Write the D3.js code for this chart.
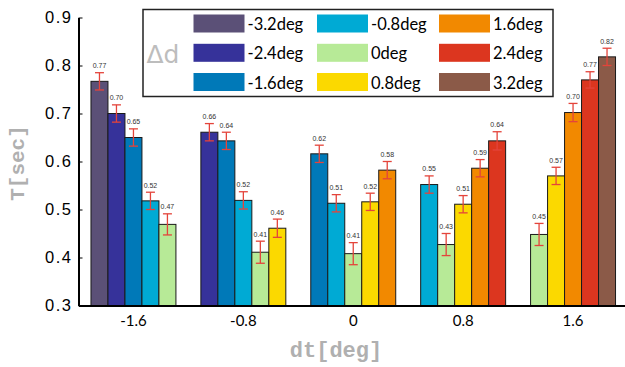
<!DOCTYPE html>
<html>
<head>
<meta charset="utf-8">
<script src="https://cdn.jsdelivr.net/npm/d3@7"></script>
<style>
  body { margin: 0; background: #fff; }
  svg { display: block; }
</style>
</head>
<body>
<div id="chart"></div>
<script>
// Data
const dtGroups = ["-1.6", "-0.8", "0", "0.8", "1.6"];
const ddSeries = ["-3.2deg", "-2.4deg", "-1.6deg", "-0.8deg", "0deg", "0.8deg", "1.6deg", "2.4deg", "3.2deg"];
// which dd series each bar of a group belongs to
const barSeries = [
    [0, 1, 2, 3, 4],
    [1, 2, 3, 4, 5],
    [2, 3, 4, 5, 6],
    [3, 4, 5, 6, 7],
    [4, 5, 6, 7, 8]
];
const meanT = [
    [0.767, 0.700, 0.650, 0.518, 0.469],
    [0.661, 0.643, 0.519, 0.411, 0.461],
    [0.616, 0.513, 0.408, 0.516, 0.582],
    [0.552, 0.427, 0.511, 0.586, 0.643],
    [0.448, 0.570, 0.702, 0.770, 0.818]
];
const errT = [
    [0.018, 0.018, 0.018, 0.018, 0.022],
    [0.018, 0.018, 0.018, 0.023, 0.019],
    [0.018, 0.018, 0.023, 0.018, 0.018],
    [0.018, 0.023, 0.018, 0.018, 0.019],
    [0.023, 0.018, 0.019, 0.017, 0.018]
];
const yTicks = [0.3, 0.4, 0.5, 0.6, 0.7, 0.8, 0.9];

const width = 625, height = 367;

const svg = d3.select("#chart")
    .append("svg")
    .attr("width", width)
    .attr("height", height);

// Scales
const x0 = d3.scaleBand()
    .domain(dtGroups)
    .range([78.5, 628])
    .paddingInner(0.227)
    .paddingOuter(0.1135);

const x1 = d3.scaleBand()
    .domain(d3.range(5))
    .range([0, x0.bandwidth()]);

const y = d3.scaleLinear()
    .domain([0.3, 0.9])
    .range([305.5, 17.5]);

const color = d3.scaleOrdinal()
    .domain(ddSeries)
    .range(["#5b5077", "#36329a", "#0079b8", "#00aad4", "#b7ea97",
            "#fbd900", "#f28900", "#dc361f", "#8b5a48"]);

// flatten to bar records
const bars = [];
dtGroups.forEach((g, gi) => {
    meanT[gi].forEach((v, bi) => {
        bars.push({ group: g, idx: bi, series: ddSeries[barSeries[gi][bi]], value: v, err: errT[gi][bi] });
    });
});

const plot = svg.append("g");

// Bars
plot.selectAll("rect.bar")
    .data(bars)
    .enter()
    .append("rect")
    .attr("class", "bar")
    .attr("x", d => x0(d.group) + x1(d.idx))
    .attr("y", d => y(d.value))
    .attr("width", x1.bandwidth())
    .attr("height", d => y(0.3) - y(d.value))
    .attr("fill", d => color(d.series))
    .attr("stroke", "#1a1a1a")
    .attr("stroke-width", 1);

// Error bars
const eb = plot.selectAll("g.err")
    .data(bars)
    .enter()
    .append("g")
    .attr("class", "err")
    .attr("stroke", "#e4443b")
    .attr("stroke-width", 1.3)
    .attr("transform", d => `translate(${x0(d.group) + x1(d.idx) + x1.bandwidth() / 2},0)`);

eb.append("line")
    .attr("y1", d => y(d.value + d.err))
    .attr("y2", d => y(d.value - d.err));
eb.append("line")
    .attr("x1", -4.5).attr("x2", 4.5)
    .attr("y1", d => y(d.value + d.err))
    .attr("y2", d => y(d.value + d.err));
eb.append("line")
    .attr("x1", -4.5).attr("x2", 4.5)
    .attr("y1", d => y(d.value - d.err))
    .attr("y2", d => y(d.value - d.err));

// Value labels
plot.selectAll("text.val")
    .data(bars)
    .enter()
    .append("text")
    .attr("class", "val")
    .attr("x", d => x0(d.group) + x1(d.idx) + x1.bandwidth() / 2)
    .attr("y", d => y(d.value + d.err) - 4.5)
    .attr("text-anchor", "middle")
    .style("font-family", "'Liberation Sans', Arial, sans-serif")
    .style("font-size", "7px")
    .attr("fill", "#333")
    .text(d => d3.format(".2f")(d.value));

// X axis
const xAxis = svg.append("g")
    .attr("transform", `translate(0,${y(0.3)})`)
    .call(d3.axisBottom(x0).tickSize(0).tickPadding(10));
xAxis.select(".domain").attr("stroke", "#000").attr("stroke-width", 2);
xAxis.selectAll("text")
    .style("font-family", "Lato, 'Open Sans', sans-serif")
    .style("font-size", "15px")
    .attr("fill", "#000");

// Y axis
const yAxis = svg.append("g")
    .attr("transform", "translate(78.5,0)")
    .call(d3.axisLeft(y)
        .tickValues(yTicks)
        .tickFormat(d3.format(".1f"))
        .tickSize(-4)
        .tickSizeOuter(0)
        .tickPadding(6));
yAxis.select(".domain").attr("stroke", "#000").attr("stroke-width", 2);
yAxis.selectAll(".tick line").attr("stroke", "#000").attr("stroke-width", 1);
yAxis.selectAll("text")
    .style("font-family", "'Liberation Sans', Arial, sans-serif")
    .style("font-size", "16.5px")
    .style("letter-spacing", "1.5px")
    .attr("fill", "#000");

// Axis titles
svg.append("text")
    .attr("transform", "translate(24,163) rotate(-90)")
    .attr("text-anchor", "middle")
    .style("font-family", "'Liberation Mono', 'DejaVu Sans Mono', monospace")
    .style("font-weight", "bold")
    .style("font-size", "21px")
    .attr("fill", "#b0b0b0")
    .text("T[sec]");

svg.append("text")
    .attr("x", 336)
    .attr("y", 357)
    .attr("text-anchor", "middle")
    .style("font-family", "'Liberation Mono', 'DejaVu Sans Mono', monospace")
    .style("font-weight", "bold")
    .style("font-size", "22px")
    .attr("fill", "#b0b0b0")
    .text("dt[deg]");

// Legend
const legend = svg.append("g");
legend.append("rect")
    .attr("x", 143).attr("y", 9.5)
    .attr("width", 410).attr("height", 87)
    .attr("fill", "#fff")
    .attr("stroke", "#222")
    .attr("stroke-width", 1.5);

legend.append("text")
    .attr("x", 163)
    .attr("y", 63)
    .attr("text-anchor", "middle")
    .style("font-family", "'DejaVu Sans', sans-serif")
    .style("font-size", "25px")
    .attr("fill", "#bdbdbd")
    .text("\u0394d");

const legColX = [193.5, 317, 439];
const legRowY = [14.5, 43.8, 73];
const items = legend.selectAll("g.item")
    .data(ddSeries)
    .enter()
    .append("g")
    .attr("class", "item")
    .attr("transform", (d, i) => `translate(${legColX[Math.floor(i / 3)]},${legRowY[i % 3]})`);

items.append("rect")
    .attr("width", 51)
    .attr("height", 18)
    .attr("fill", d => color(d));

items.append("text")
    .attr("x", 54)
    .attr("y", 15.5)
    .style("font-family", "Lato, 'Open Sans', sans-serif")
    .style("font-size", "16.5px")
    .attr("fill", "#000")
    .text(d => d);
</script>
</body>
</html>
